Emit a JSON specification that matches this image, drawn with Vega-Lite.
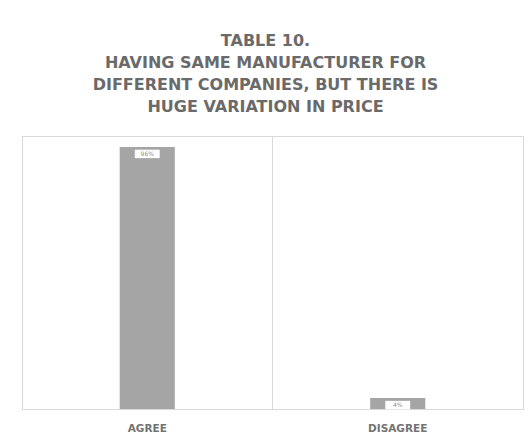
{
  "$schema": "https://vega.github.io/schema/vega-lite/v6.json",
  "autosize": "none",
  "padding": {"left": 22, "top": 136, "right": 5, "bottom": 28},
  "width": 501,
  "height": 273,
  "background": "white",
  "title": {
    "text": ["TABLE 10.", "HAVING SAME MANUFACTURER FOR", "DIFFERENT COMPANIES, BUT THERE IS", "HUGE VARIATION IN PRICE"],
    "anchor": "middle",
    "frame": "group",
    "dx": -7,
    "offset": 21,
    "font": "DejaVu Sans",
    "fontSize": 16,
    "fontWeight": "bold",
    "color": "#6a6a6a",
    "lineHeight": 22
  },
  "config": {
    "view": {"stroke": "#d9d9d9", "strokeWidth": 1}
  },
  "data": {
    "values": [
      {"response": "AGREE", "percent": 96, "label": "96%"},
      {"response": "DISAGREE", "percent": 4, "label": "4%"}
    ]
  },
  "encoding": {
    "x": {
      "field": "response",
      "type": "nominal",
      "sort": null,
      "scale": {"paddingInner": 0, "paddingOuter": 0},
      "axis": {
        "title": null,
        "labelAngle": 0,
        "domain": true,
        "domainColor": "#d9d9d9",
        "ticks": false,
        "grid": true,
        "gridColor": "#d9d9d9",
        "bandPosition": 0,
        "labelFont": "DejaVu Sans",
        "labelFontWeight": "bold",
        "labelFontSize": 10.5,
        "labelColor": "#737373",
        "labelPadding": 14
      }
    },
    "y": {
      "field": "percent",
      "type": "quantitative",
      "scale": {"domain": [0, 100]},
      "axis": null
    }
  },
  "layer": [
    {
      "mark": {"type": "bar", "color": "#a5a5a5", "width": {"band": 0.22}}
    },
    {
      "mark": {"type": "point", "shape": "M-1,-0.34H1V0.34H-1Z", "filled": true, "color": "white", "opacity": 1, "size": 620, "yOffset": 7},
      "encoding": {}
    },
    {
      "mark": {"type": "text", "color": "#8c8c8c", "fontSize": 6, "font": "DejaVu Sans", "baseline": "middle", "dy": 7},
      "encoding": {"text": {"field": "label"}}
    }
  ]
}
